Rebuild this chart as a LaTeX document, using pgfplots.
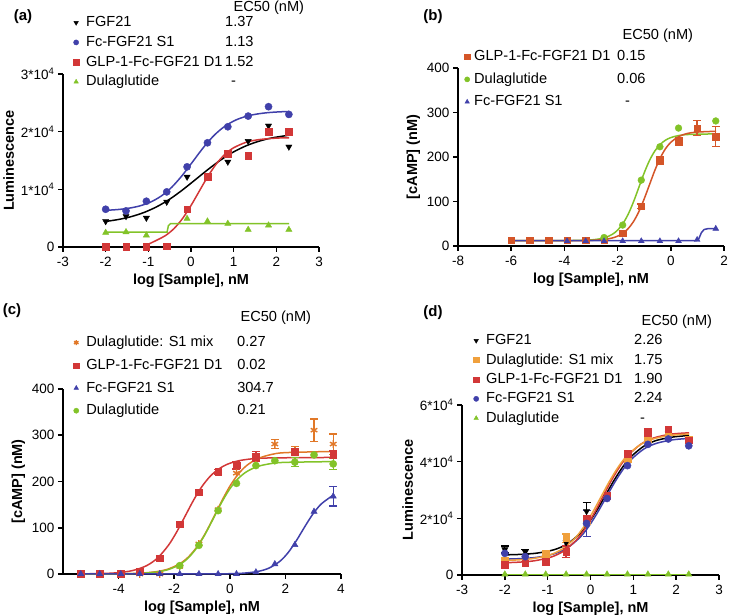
\documentclass[border=0pt]{standalone}
\usepackage{fontspec}
\setmainfont{Liberation Sans}
\usepackage{pgfplots}
\pgfplotsset{compat=1.18}

\definecolor{cblue}{RGB}{64,64,170}
\definecolor{cred}{RGB}{210,55,55}
\definecolor{cored}{RGB}{212,85,40}
\definecolor{cgreen}{RGB}{130,195,40}
\definecolor{corange}{RGB}{225,120,40}
\definecolor{clight}{RGB}{240,160,60}

\newcommand\tickf{\fontsize{13.5}{15}\selectfont}
\newcommand\legf{\fontsize{14.6}{16}\selectfont}
\newcommand\labf{\fontsize{14.5}{16}\selectfont\bfseries}
\newcommand\tenf[1]{#1*10\textsuperscript{4}}

\pgfplotsset{
  panel/.style={
    scale only axis, clip=false,
    axis x line*=bottom, axis y line*=left,
    axis line style={line width=1.6pt},
    every tick/.style={line width=1.6pt, black},
    major tick length=5pt, tick align=outside,
    scaled y ticks=false, scaled x ticks=false,
    xticklabel style={font=\tickf, yshift=-1.5pt}, yticklabel style={font=\tickf},
    xlabel style={font=\labf, yshift=-0.5pt}, ylabel style={font=\labf},
    xlabel={log [Sample], nM},
    legend cell align=left,
    legend style={draw=none, fill=none, font=\legf, inner sep=0pt, row sep=6.7pt,
      nodes={inner sep=0pt, text height=10.5pt, text depth=2.5pt}},
  },
  legimg/.style={legend image code/.code={
    \path[draw=none, fill=none] (0pt,-2pt) (#1,2pt);
    \draw[mark repeat=2,mark phase=2,##1,mark size=2.6pt] plot coordinates {(0pt,0pt)(5pt,0pt)(10pt,0pt)};}},
  crv/.style={line width=1.5pt, smooth, no marks, forget plot},
  pts/.style={only marks, mark size=3.6pt},
  eb/.style={error bars/.cd, y dir=both, y explicit,
    error bar style={line width=1.3pt},
    error mark options={rotate=90, line width=1.3pt, mark size=4pt}},
}

\begin{document}
\begin{tikzpicture}
\path[use as bounding box] (0pt,0pt) rectangle (733pt,615pt);

% ---------------- (a) ----------------
\node[font=\fontsize{15}{17}\selectfont\bfseries] at (23pt,598pt) {(a)};
\node[font=\legf, anchor=west] at (230pt,607pt) {EC50 (nM)};
\begin{axis}[panel, legimg=15pt,
  at={(63pt,368pt)}, anchor=south west, width=256pt, height=173pt,
  xmin=-3, xmax=3, ymin=0, ymax=30000,
  xtick={-3,-2,-1,0,1,2,3}, xticklabels={-3,-2,-1,0,1,2,3},
  ytick={0,10000,20000,30000},
  yticklabels={0,\tenf{1},\tenf{2},\tenf{3}},
  ylabel={Luminescence},
  legend style={at={(0.031,1.335)}, anchor=north west},
]
\addplot[crv, black] coordinates {(-2,4433)(-1.7,4770)(-1.4,5270)(-1.1,5990)(-0.8,6990)(-0.5,8290)(-0.2,9890)(0.1,11660)(0.4,13450)(0.7,15110)(1.0,16500)(1.3,17570)(1.6,18360)(1.9,18920)(2.3,19390)};
\addplot[crv, cblue] coordinates {(-2,6353)(-1.7,6505)(-1.45,6734)(-1.2,7126)(-0.95,7782)(-0.7,8827)(-0.45,10376)(-0.2,12464)(0.05,14900)(0.3,17336)(0.55,19424)(0.8,20973)(1.05,22017)(1.3,22678)(1.55,23061)(1.8,23296)(2.05,23426)(2.3,23503)};
\addplot[crv, cred] coordinates {(-1.05,300)(-0.8,1190)(-0.6,1975)(-0.4,3180)(-0.2,4920)(0,7190)(0.2,9760)(0.4,12300)(0.6,14470)(0.8,16100)(1.0,17210)(1.3,18180)(1.6,18630)(2.0,18880)(2.3,18935)};
\addplot[line width=1.5pt, no marks, forget plot, cgreen] coordinates {(-2,2600)(-0.56,2600)(-0.53,3700)(-0.48,4050)(2.3,4050)};
\addplot[pts, black, mark=triangle*, mark options={rotate=180}] coordinates {(-2,4460)(-1.523,5330)(-1.046,5040)(-0.569,7820)(-0.092,12160)(0.386,12450)(0.863,14770)(1.340,18360)(1.817,21020)(2.294,17380)};
\addlegendentry{\makebox[139pt][l]{FGF21}1.37}
\addplot[pts, cblue, mark=*] coordinates {(-2,6545)(-1.523,6255)(-1.046,7935)(-0.569,9556)(-0.092,13900)(0.386,18070)(0.863,20850)(1.340,22700)(1.817,24330)(2.294,22990)};
\addlegendentry{\makebox[139pt][l]{Fc-FGF21 S1}1.13}
\addplot[pts, cred, mark=square*, mark size=3.3pt] coordinates {(-2,0)(-1.523,0)(-1.046,0)(-0.569,170)(-0.092,6545)(0.386,12160)(0.863,16220)(1.340,15810)(1.817,19980)(2.294,19980)};
\addlegendentry{\makebox[139pt][l]{GLP-1-Fc-FGF21 D1}1.52}
\addplot[pts, cgreen, mark=triangle*] coordinates {(-2,2490)(-1.523,2600)(-1.046,2030)(-0.092,4920)(0.386,4460)(0.863,4050)(1.340,3010)(1.817,3760)(2.294,3010)};
\addlegendentry{\makebox[139pt][l]{Dulaglutide}\hspace{6pt}-}
\end{axis}

% ---------------- (b) ----------------
\node[font=\fontsize{15}{17}\selectfont\bfseries] at (433pt,598pt) {(b)};
\node[font=\legf, anchor=west] at (619pt,579pt) {EC50 (nM)};
\begin{axis}[panel, legimg=12pt,
  at={(458pt,369pt)}, anchor=south west, width=266pt, height=178pt,
  xmin=-8, xmax=2, ymin=0, ymax=400,
  xtick={-8,-6,-4,-2,0,2}, xticklabels={-8,-6,-4,-2,0,2},
  ytick={0,100,200,300,400}, yticklabels={0,100,200,300,400},
  ylabel={[cAMP] (nM)},
  legend style={at={(0.015,1.10)}, anchor=north west, row sep=9.5pt},
]
\addplot[crv, cgreen] coordinates {(-6,12)(-4,12.1)(-3,13.7)(-2.5,18.4)(-2.2,26.2)(-2.0,35.7)(-1.8,50.4)(-1.6,71.7)(-1.4,99.6)(-1.2,132)(-1.0,164.4)(-0.8,192.3)(-0.6,213.6)(-0.4,228.2)(-0.2,237.8)(0,243.6)(0.3,248.3)(0.7,250.7)(1.7,252)};
\addplot[crv, cored] coordinates {(-6,12)(-4,12.1)(-3,12.7)(-2.5,14.7)(-2.2,18)(-2.0,22.1)(-1.8,28.7)(-1.6,39.3)(-1.4,55.1)(-1.2,77.4)(-1.0,106)(-0.8,138)(-0.6,170)(-0.4,197.5)(-0.2,218.6)(0,233)(0.3,246)(0.6,252.6)(1.0,256)(1.7,257.8)};
\addplot[line width=1.5pt, no marks, forget plot, cblue] coordinates {(-6,12)(0.95,12)(1.05,16)(1.15,30)(1.25,37)(1.4,39)(1.7,39)};
\addplot[pts, cored, mark=square*, mark size=3.3pt, eb]
  coordinates {(-6,12.8)(-5.30,12.8)(-4.60,12.8)(-3.90,12.8)(-3.20,12.8)(-2.51,14)(-1.81,29)(-1.11,89.5) +- (0,5)(-0.41,192) +- (0,9)(0.29,235) +- (0,8)(0.99,265) +- (0,17)(1.69,246) +- (0,23)};
\addlegendentry{\makebox[143pt][l]{GLP-1-Fc-FGF21 D1}0.15}
\addplot[pts, cgreen, mark=*, mark size=3.4pt] coordinates {(-2.51,19)(-1.81,47)(-1.11,148)(-0.41,223)(0.29,265)(1.69,281)};
\addlegendentry{\makebox[143pt][l]{Dulaglutide}0.06}
\addplot[pts, cblue, mark=triangle*, mark size=3.4pt] coordinates {(-3.90,11)(-3.20,11)(-2.51,11)(-1.81,11)(-1.11,11)(-0.41,11)(0.29,11)(0.99,14)(1.69,39)};
\addlegendentry{\makebox[143pt][l]{Fc-FGF21 S1}\hspace{8pt}-}
\end{axis}

% ---------------- (c) ----------------
\node[font=\fontsize{15}{17}\selectfont\bfseries] at (12pt,304pt) {(c)};
\node[font=\legf, anchor=west] at (237pt,297pt) {EC50 (nM)};
\begin{axis}[panel, legimg=15pt,
  at={(63pt,41pt)}, anchor=south west, width=278pt, height=185pt,
  xmin=-6, xmax=4, ymin=0, ymax=400,
  xtick={-4,-2,0,2,4}, xticklabels={-4,-2,0,2,4},
  ytick={0,100,200,300,400}, yticklabels={0,100,200,300,400},
  ylabel={[cAMP] (nM)},
  legend style={at={(0.029,1.287)}, anchor=north west, row sep=9.7pt},
]
\addplot[crv, cred] coordinates {(-5.4,0.2)(-4.5,1.2)(-4,3)(-3.5,7.4)(-3,17.8)(-2.6,34.5)(-2.2,62.7)(-1.9,92)(-1.6,126)(-1.3,160)(-1.0,189.3)(-0.7,211.7)(-0.4,227)(-0.1,237)(0.3,244.6)(0.8,249)(1.5,251)(3.7,252)};
\addplot[crv, corange] coordinates {(-5.4,0)(-4,0.4)(-3.2,1.8)(-2.6,5.4)(-2.2,11.1)(-1.8,22.2)(-1.5,36.2)(-1.2,57.2)(-0.9,85.8)(-0.6,120.3)(-0.3,156.6)(0,189.6)(0.3,215.6)(0.6,234.2)(1.0,249.3)(1.5,258.5)(2.0,262.4)(3.7,265)};
\addplot[crv, cgreen] coordinates {(-5.4,0)(-4,0.3)(-3.2,1.4)(-2.6,4.6)(-2.2,9.8)(-1.8,20.4)(-1.5,34.5)(-1.2,55.7)(-0.9,84.6)(-0.6,119.1)(-0.3,154)(0,184)(0.3,206.2)(0.6,221)(1.0,232.5)(1.5,238.9)(2.0,241.4)(3.7,243)};
\addplot[crv, cblue] coordinates {(-5.4,0)(-1,0.1)(0,0.6)(0.5,1.85)(1.0,5.4)(1.4,12.5)(1.8,27.4)(2.1,46.4)(2.4,72.6)(2.7,102.6)(3.0,130.6)(3.3,152)(3.71,170)};
\addplot[pts, corange, mark=asterisk, mark size=3.8pt, mark options={line width=1.4pt}, eb]
  coordinates {(-5.36,0)(-4.68,0)(-3.92,0)(-3.24,0)(-2.52,0)(-1.80,16.5)(-1.11,65)(-0.42,139)(0.24,218)(0.94,250)(1.62,281) +- (0,10)(2.34,267) +- (0,9)(3.03,311) +- (0,24)(3.72,281) +- (0,22)};
\addlegendentry{\makebox[151pt][l]{Dulaglutide: S1 mix}0.27}
\addplot[pts, cred, mark=square*, mark size=3.3pt, eb]
  coordinates {(-5.36,0)(-4.68,0)(-3.92,0)(-3.24,6)(-2.52,34)(-1.80,108)(-1.11,177)(-0.42,221) +- (0,5)(0.24,235) +- (0,8)(0.94,254) +- (0,11)(2.34,265) +- (0,6)(3.72,258) +- (0,8)};
\addlegendentry{\makebox[151pt][l]{GLP-1-Fc-FGF21 D1}0.02}
\addplot[pts, cblue, mark=triangle*, eb]
  coordinates {(-5.36,0)(-4.68,0)(-3.92,0)(-3.24,0)(-2.52,0)(-1.80,0)(-1.11,0)(-0.42,0)(0.24,0)(0.94,4)(1.62,21.6)(2.34,63)(3.03,135)(3.72,168) +- (0,21)};
\addlegendentry{\makebox[151pt][l]{Fc-FGF21 S1}304.7}
\addplot[pts, cgreen, mark=*, eb]
  coordinates {(-1.80,18)(-1.11,62)(-0.42,137)(0.24,196)(0.94,234.5)(1.62,245)(2.34,242) +- (0,10)(3.03,257.5)(3.72,238) +- (0,12)};
\addlegendentry{\makebox[151pt][l]{Dulaglutide}0.21}
\end{axis}

% ---------------- (d) ----------------
\node[font=\fontsize{15}{17}\selectfont\bfseries] at (433pt,302pt) {(d)};
\node[font=\legf, anchor=west] at (638pt,293pt) {EC50 (nM)};
\begin{axis}[panel, legimg=15pt,
  at={(462pt,40pt)}, anchor=south west, width=257pt, height=170pt,
  xmin=-3, xmax=3, ymin=0, ymax=60000,
  xtick={-3,-2,-1,0,1,2,3}, xticklabels={-3,-2,-1,0,1,2,3},
  ytick={0,20000,40000,60000},
  yticklabels={0,\tenf{2},\tenf{4},\tenf{6}},
  ylabel={Luminescence},
  legend style={at={(0.035,1.418)}, anchor=north west, row sep=6.4pt},
]
\addplot[crv, black] coordinates {(-2,7110)(-1.646,7270)(-1.246,7730)(-0.846,8940)(-0.546,10940)(-0.246,14630)(-0.046,18320)(0.154,22980)(0.354,28250)(0.554,33520)(0.754,38180)(0.954,41870)(1.254,45560)(1.554,47560)(1.954,48770)(2.3,49200)};
\addplot[crv, cblue] coordinates {(-2,5610)(-1.65,5770)(-1.25,6240)(-0.85,7470)(-0.55,9490)(-0.25,13220)(-0.05,16950)(0.15,21670)(0.35,27000)(0.55,32330)(0.75,37050)(0.95,40780)(1.25,44510)(1.55,46530)(1.95,47770)(2.3,48190)};
\addplot[crv, cred] coordinates {(-2,4345)(-1.721,4490)(-1.321,4990)(-0.921,6320)(-0.621,8500)(-0.321,12510)(-0.121,16530)(0.079,21610)(0.279,27350)(0.479,33090)(0.679,38170)(0.879,42190)(1.179,46200)(1.479,48390)(1.879,49710)(2.3,50190)};
\addplot[crv, clight] coordinates {(-2,5150)(-1.757,5280)(-1.357,5770)(-0.957,7060)(-0.657,9180)(-0.357,13080)(-0.157,16990)(0.043,21920)(0.243,27500)(0.443,33080)(0.643,38010)(0.843,41920)(1.143,45820)(1.443,47940)(1.843,49230)(2.3,49750)};
\addplot[line width=1.5pt, no marks, forget plot, cgreen] coordinates {(-2,250)(2.3,250)};
\addplot[pts, black, mark=triangle*, mark options={rotate=180}, eb]
  coordinates {(-2,9000) +- (0,1200)(-1.523,8200) +- (0,900)(-1.046,7500)(-0.569,11500)(-0.092,22500) +- (0,3000)(0.386,27500)(0.863,39500)(1.340,49000)(1.817,50000)(2.294,48000)};
\addlegendentry{\makebox[148pt][l]{FGF21}2.26}
\addplot[pts, clight, mark=square*, mark size=3.3pt, eb]
  coordinates {(-2,5000)(-1.523,5500)(-1.046,7600)(-0.569,13000) +- (0,1500)(-0.092,19000)(0.386,28000)(0.863,41000)(1.340,48000)(1.817,50500)(2.294,48000)};
\addlegendentry{\makebox[148pt][l]{Dulaglutide: S1 mix}1.75}
\addplot[pts, cred, mark=square*, mark size=3.3pt, eb]
  coordinates {(-2,3530)(-1.523,4100)(-1.046,4700)(-0.569,8230) +- (0,2000)(-0.092,20000)(0.386,28000)(0.863,42900)(1.340,50200) +- (0,1500)(1.817,51500)(2.294,47600)};
\addlegendentry{\makebox[148pt][l]{GLP-1-Fc-FGF21 D1}1.90}
\addplot[pts, cblue, mark=*, eb]
  coordinates {(-2,7640)(-1.523,6470)(-0.092,18200) +- (0,4500)(0.386,27000)(0.863,38600)(1.340,46100)(1.817,48000)(2.294,45600)};
\addlegendentry{\makebox[148pt][l]{Fc-FGF21 S1}2.24}
\addplot[pts, cgreen, mark=triangle*] coordinates {(-2,250)(-1.523,250)(-1.046,250)(-0.569,250)(-0.092,250)(0.386,250)(0.863,250)(1.340,250)(1.817,250)(2.294,250)};
\addlegendentry{\makebox[148pt][l]{Dulaglutide}\hspace{6pt}-}
\end{axis}
\end{tikzpicture}
\end{document}
